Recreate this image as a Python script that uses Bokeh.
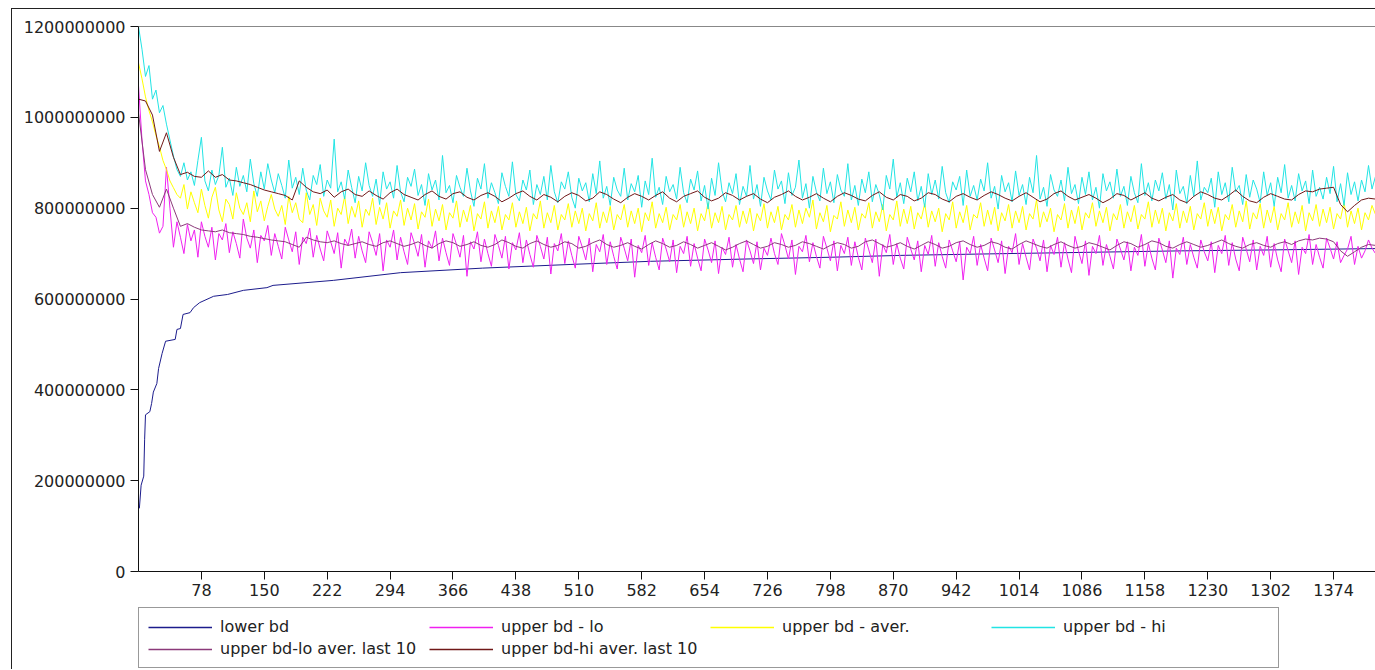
from bokeh.plotting import figure
from bokeh.layouts import column
from bokeh.models import (FixedTicker, NumeralTickFormatter, Legend, LegendItem,
                          Range1d, LinearAxis)
from bokeh.embed import file_html
from bokeh.resources import INLINE

# ---------------- data (values in millions) ----------------
x_fine = list(range(6, 1423, 4))     # sample positions of the noisy series
x_avg = list(range(6, 1423, 8))      # sample positions of the running averages

lower_x = [7, 9, 12, 13, 14, 19, 21, 23, 27, 29, 33, 37, 48, 50, 54, 57, 65, 69, 76,
           92, 108, 126, 153, 160, 229, 306, 400, 500, 592, 700, 800, 878, 1000,
           1100, 1200, 1300, 1422]
lower_bd = [139, 190, 210, 290, 345, 352, 370, 395, 414, 447, 480, 507, 511, 533, 535,
            566, 570, 581, 592, 606, 610, 619, 625, 630, 641, 658, 668, 676, 683, 688,
            692, 696, 700, 703, 706, 708, 711]

upper_hi = [
    1200, 1150, 1090, 1114, 1040, 1060, 1010, 1026, 985, 950,
    915, 885, 870, 900, 862, 880, 850, 905, 956, 860,
    838, 884, 852, 872, 934, 846, 866, 828, 890, 848,
    872, 836, 908, 854, 826, 880, 842, 898, 862, 834,
    876, 850, 822, 906, 844, 868, 830, 888, 840, 818,
    872, 852, 896, 826, 862, 844, 952, 836, 858, 820,
    884, 846, 812, 870, 838, 900, 850, 826, 864, 808,
    880, 842, 858, 822, 894, 836, 814, 868, 848, 886,
    828, 852, 806, 876, 840, 862, 818, 916, 834, 850,
    812, 872, 846, 826, 888, 838, 804, 866, 842, 898,
    822, 856, 834, 810, 878, 848, 826, 902, 830, 816,
    862, 840, 884, 808, 852, 830, 870, 818, 894, 836,
    812, 858, 842, 880, 824, 800, 866, 838, 856, 814,
    876, 832, 904, 822, 848, 806, 868, 840, 826, 888,
    818, 854, 836, 872, 802, 860, 830, 910, 824, 846,
    808, 870, 836, 852, 820, 890, 834, 812, 864, 840,
    882, 816, 850, 798, 866, 828, 900, 838, 814, 856,
    832, 876, 808, 848, 826, 894, 820, 852, 804, 868,
    838, 818, 884, 842, 860, 810, 878, 828, 846, 906,
    822, 854, 800, 870, 836, 816, 888, 832, 858, 812,
    874, 840, 826, 898, 818, 850, 806, 864, 834, 880,
    814, 852, 830, 796, 872, 842, 908, 824, 856, 810,
    866, 836, 880, 816, 848, 802, 876, 830, 862, 820,
    892, 834, 812, 858, 840, 870, 806, 884, 826, 850,
    818, 864, 838, 900, 822, 848, 798, 872, 836, 856,
    814, 882, 828, 852, 808, 868, 834, 916, 820, 846,
    804, 874, 840, 826, 862, 816, 890, 832, 852, 810,
    868, 830, 880, 818, 846, 800, 876, 838, 858, 822,
    886, 826, 848, 806, 870, 834, 812, 898, 828, 856,
    816, 862, 838, 878, 820, 852, 796, 884, 832, 848,
    810, 872, 826, 904, 818, 846, 834, 866, 802, 880,
    830, 856, 814, 890, 836, 850, 808, 874, 824, 862,
    842, 812, 880, 828, 856, 804, 868, 834, 896, 822,
    850, 816, 876, 838, 860, 810, 884, 826, 846, 820,
    868, 832, 892, 814, 854, 806, 878, 830, 858, 816,
    862, 836, 894, 842, 870]

upper_aver = [
    1120, 1085, 1045, 1015, 990, 960, 935, 905, 885, 860,
    845, 830, 822, 852, 798, 836, 812, 790, 842, 806,
    778, 824, 846, 796, 770, 820, 808, 776, 834, 800,
    786, 812, 770, 838, 792, 816, 772, 804, 830, 798,
    782, 806, 764, 826, 790, 812, 776, 768, 834, 786,
    808, 762, 822, 794, 780, 818, 760, 800, 786, 826,
    766, 804, 780, 816, 758, 798, 784, 822, 764, 802,
    776, 812, 756, 794, 782, 818, 762, 800, 774, 810,
    754, 792, 780, 820, 760, 798, 772, 808, 752, 790,
    778, 816, 758, 796, 770, 806, 750, 788, 776, 814,
    756, 794, 768, 804, 752, 786, 774, 812, 758, 792,
    766, 802, 750, 788, 776, 816, 756, 790, 768, 806,
    752, 786, 774, 810, 758, 794, 766, 800, 750, 788,
    772, 812, 756, 792, 768, 804, 752, 786, 774, 808,
    758, 794, 766, 800, 748, 790, 772, 814, 756, 788,
    768, 802, 752, 786, 774, 808, 758, 792, 766, 800,
    750, 788, 772, 812, 756, 790, 768, 804, 752, 786,
    774, 806, 758, 794, 766, 800, 750, 788, 772, 810,
    756, 792, 768, 804, 752, 786, 774, 808, 758, 796,
    766, 800, 780, 818, 754, 790, 770, 806, 748, 784,
    776, 814, 760, 796, 768, 802, 752, 788, 778, 812,
    756, 792, 770, 808, 750, 786, 774, 816, 760, 798,
    766, 804, 754, 790, 776, 810, 758, 794, 770, 800,
    748, 788, 774, 814, 756, 792, 768, 806, 752, 786,
    778, 812, 760, 796, 764, 802, 750, 790, 772, 808,
    756, 794, 768, 804, 752, 788, 776, 818, 758, 792,
    770, 800, 748, 786, 774, 810, 756, 796, 766, 804,
    752, 790, 778, 812, 760, 794, 768, 802, 750, 788,
    774, 808, 756, 792, 770, 806, 754, 786, 776, 814,
    758, 796, 766, 800, 750, 790, 772, 810, 756, 794,
    768, 804, 752, 788, 776, 812, 760, 798, 766, 802,
    750, 786, 774, 808, 758, 794, 770, 816, 754, 790,
    776, 810, 756, 796, 768, 804, 752, 788, 774, 812,
    758, 792, 766, 806, 750, 790, 772, 808, 760, 798,
    768, 802, 754, 788, 776, 814, 758, 794, 766, 800,
    752, 790, 774, 806, 786]

upper_lo = [
    1070, 950, 860, 830, 790, 780, 745, 760, 890, 800,
    714, 770, 736, 700, 764, 728, 752, 692, 770, 738,
    714, 758, 686, 744, 730, 766, 702, 748, 722, 690,
    776, 734, 712, 752, 680, 740, 728, 762, 696, 744,
    716, 688, 758, 730, 704, 748, 676, 736, 722, 756,
    692, 740, 710, 684, 750, 726, 700, 746, 668, 732,
    718, 754, 690, 738, 706, 680, 748, 724, 696, 744,
    662, 730, 714, 752, 686, 736, 704, 676, 746, 722,
    694, 742, 670, 728, 712, 750, 684, 734, 702, 674,
    744, 720, 692, 740, 650, 726, 710, 748, 682, 732,
    700, 672, 742, 718, 690, 738, 666, 724, 708, 746,
    680, 730, 698, 670, 740, 716, 688, 736, 655, 722,
    706, 744, 678, 728, 696, 668, 738, 714, 686, 734,
    660, 720, 704, 742, 676, 726, 694, 666, 736, 712,
    684, 732, 648, 718, 702, 740, 674, 724, 692, 664,
    734, 710, 682, 730, 658, 716, 700, 738, 672, 722,
    690, 662, 732, 708, 680, 728, 656, 714, 698, 736,
    670, 720, 688, 660, 730, 706, 678, 726, 664, 712,
    696, 734, 700, 676, 744, 718, 688, 730, 654, 716,
    704, 740, 682, 724, 694, 668, 738, 712, 684, 728,
    662, 718, 700, 736, 674, 726, 692, 664, 734, 708,
    680, 732, 650, 720, 702, 742, 676, 722, 690, 666,
    736, 710, 686, 728, 660, 718, 698, 740, 672, 724,
    694, 668, 730, 706, 682, 726, 642, 714, 700, 738,
    674, 720, 690, 662, 734, 708, 680, 728, 656, 716,
    702, 744, 676, 722, 692, 664, 732, 712, 684, 730,
    660, 718, 698, 736, 670, 724, 688, 658, 738, 706,
    678, 728, 652, 716, 700, 740, 674, 720, 694, 666,
    732, 710, 686, 726, 662, 714, 696, 742, 672, 722,
    690, 664, 734, 708, 680, 728, 646, 712, 698, 736,
    676, 720, 692, 668, 730, 704, 684, 726, 658, 718,
    700, 740, 674, 724, 688, 662, 736, 710, 682, 730,
    664, 716, 696, 738, 670, 722, 686, 660, 732, 706,
    680, 728, 654, 714, 700, 742, 676, 720, 692, 668,
    734, 712, 688, 726, 680, 696, 710, 738, 676, 716,
    690, 706, 730, 712, 700]

upper_hi_avg = [
    1040, 1036, 1005, 925, 966, 912, 874, 879, 870, 868,
    882, 868, 874, 862, 860, 856, 852, 846, 840, 836,
    832, 828, 818, 860, 846, 836, 832, 840, 824, 836,
    842, 830, 826, 838, 828, 820, 834, 842, 830, 824,
    818, 830, 838, 826, 820, 832, 836, 824, 818, 828,
    834, 826, 814, 822, 832, 838, 826, 818, 830, 824,
    814, 826, 834, 828, 816, 822, 836, 830, 820, 812,
    824, 832, 826, 818, 828, 836, 822, 814, 826, 832,
    838, 824, 816, 822, 834, 828, 818, 826, 832, 820,
    812, 824, 830, 838, 826, 818, 824, 832, 822, 814,
    826, 834, 828, 820, 816, 828, 836, 824, 818, 830,
    826, 816, 822, 834, 830, 820, 814, 826, 832, 824,
    818, 828, 836, 830, 822, 816, 826, 834, 824, 814,
    820, 832, 838, 826, 818, 824, 830, 822, 812, 820,
    832, 828, 818, 826, 834, 822, 816, 824, 830, 818,
    812, 826, 836, 830, 822, 818, 828, 840, 826, 816,
    812, 824, 832, 826, 820, 818, 830, 838, 836, 842,
    844, 846, 808, 792, 806, 818, 822, 820]

upper_lo_avg = [
    1010, 885, 830, 802, 842, 800, 760, 766, 758, 752,
    750, 748, 752, 746, 744, 742, 738, 736, 733, 730,
    728, 726, 720, 714, 736, 730, 726, 724, 728, 722,
    718, 722, 726, 720, 716, 724, 728, 722, 716, 720,
    726, 718, 712, 722, 728, 724, 716, 720, 726, 718,
    714, 720, 730, 724, 716, 712, 722, 728, 720, 714,
    718, 726, 722, 712, 716, 724, 730, 720, 714, 718,
    724, 716, 710, 720, 728, 722, 714, 718, 726, 720,
    712, 718, 724, 716, 708, 714, 722, 728, 720, 712,
    716, 724, 720, 714, 718, 726, 722, 716, 710, 718,
    724, 720, 712, 716, 726, 730, 722, 714, 718, 724,
    716, 710, 718, 726, 720, 712, 716, 724, 728, 720,
    714, 718, 726, 722, 714, 710, 720, 728, 722, 716,
    712, 720, 726, 718, 712, 716, 724, 720, 714, 708,
    718, 726, 722, 714, 720, 728, 724, 716, 712, 720,
    726, 720, 714, 718, 724, 730, 722, 716, 712, 720,
    724, 718, 714, 722, 726, 720, 728, 732, 730, 734,
    732, 726, 706, 694, 704, 714, 720, 718]

x_ticks = [78, 150, 222, 294, 366, 438, 510, 582, 654, 726, 798, 870, 942,
           1014, 1086, 1158, 1230, 1302, 1374]
y_ticks = [0, 200000000, 400000000, 600000000, 800000000, 1000000000, 1200000000]

labels = ["lower bd", "upper bd - lo", "upper bd - aver.", "upper bd - hi",
          "upper bd-lo aver. last 10", "upper bd-hi aver. last 10"]
colors = ["#1c1c8c", "#f020f0", "#ffff00", "#22e4e4", "#8b3a7a", "#701818"]

MIL = 1_000_000
font = "DejaVu Sans"

series = [
    (lower_x, lower_bd),
    (x_fine, upper_lo),
    (x_fine, upper_aver),
    (x_fine, upper_hi),
    (x_avg, upper_lo_avg),
    (x_avg, upper_hi_avg),
]

# ---------------- main chart ----------------
p = figure(width=1363, height=594,
           x_range=Range1d(6, 1422), y_range=Range1d(0, 1.2e9),
           output_backend="svg", toolbar_location=None,
           min_border_left=126, min_border_right=0, min_border_top=17,
           min_border_bottom=32, outline_line_color=None,
           background_fill_color="white", border_fill_color="white")
p.grid.visible = False

for (xs, ys), c in zip(series, colors):
    p.line(xs, [v * MIL for v in ys], line_color=c, line_width=1)

for ax in (p.xaxis[0], p.yaxis[0]):
    ax.axis_line_color = "#111111"
    ax.major_tick_line_color = "#111111"
    ax.major_tick_out = 8
    ax.major_tick_in = 0
    ax.minor_tick_line_color = None
    ax.major_label_text_font = font
    ax.major_label_text_font_size = "16px"
    ax.major_label_text_color = "#222222"
p.xaxis[0].ticker = FixedTicker(ticks=x_ticks)
p.xaxis[0].major_label_standoff = 4
p.yaxis[0].ticker = FixedTicker(ticks=y_ticks)
p.yaxis[0].formatter = NumeralTickFormatter(format="0")
p.yaxis[0].major_label_standoff = 5

top_axis = LinearAxis(ticker=FixedTicker(ticks=[]), axis_line_color="#888888",
                      major_tick_line_color=None, minor_tick_line_color=None,
                      major_label_text_font_size="0px")
p.add_layout(top_axis, "above")

# ---------------- legend strip (same series, outside its own view) ----------------
lg = figure(width=1363, height=66, x_range=Range1d(0, 1), y_range=Range1d(0, 1),
            output_backend="svg", toolbar_location=None,
            x_axis_type=None, y_axis_type=None,
            min_border_left=0, min_border_right=0, min_border_top=0,
            min_border_bottom=0, outline_line_color=None,
            background_fill_color="white", border_fill_color="white")
lg.grid.visible = False
legend_renderers = [lg.line(xs, [v * MIL for v in ys], line_color=c, line_width=1.6)
                    for (xs, ys), c in zip(series, colors)]

legend = Legend(items=[LegendItem(label=l, renderers=[r])
                       for l, r in zip(labels, legend_renderers)],
                location=(0, 1), orientation="horizontal", ncols=4,
                border_line_color="#333333", border_line_width=1,
                background_fill_color="white", background_fill_alpha=1,
                label_text_font=font, label_text_font_size="16px",
                label_text_color="#222222",
                glyph_width=64, glyph_height=18, label_height=18, label_width=206,
                label_standoff=8, spacing=3, padding=9, margin=0)
lg.add_layout(legend)

layout = column(p, lg, spacing=0,
                styles={"border-top": "1px solid #222", "border-left": "1px solid #222",
                        "margin-left": "11px", "margin-top": "8px"})

open("out.html", "w").write(file_html(layout, INLINE))
